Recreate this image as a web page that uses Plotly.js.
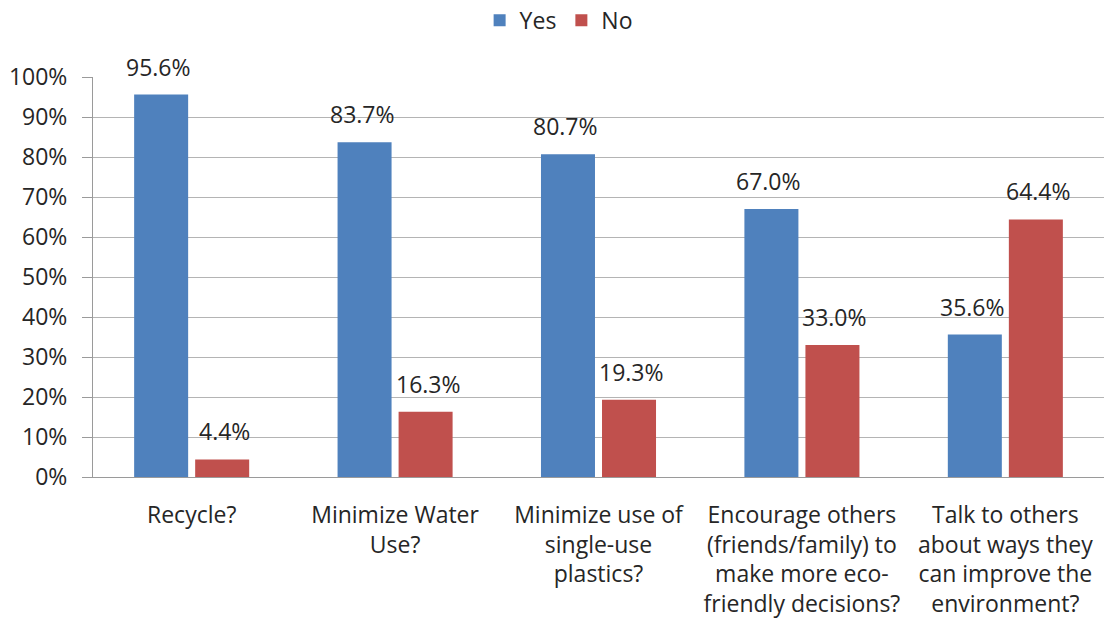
<!DOCTYPE html>
<html><head><meta charset="utf-8">
<script src="https://cdn.plot.ly/plotly-3.0.1.min.js"></script>
<style>html,body{margin:0;padding:0;background:#fff}</style>
</head><body><div id="chart" style="width:1104px;height:631px"></div>
<script>
const categories = ["Recycle?", "Minimize Water<br>Use?", "Minimize use of<br>single-use<br>plastics?", "Encourage others<br>(friends/family) to<br>make more eco-<br>friendly decisions?", "Talk to others<br>about ways they<br>can improve the<br>environment?"];
const yesValues = [0.956, 0.837, 0.807, 0.670, 0.356];
const noValues = [0.044, 0.163, 0.193, 0.330, 0.644];
const yTickVals = [0,0.1,0.2,0.3,0.4,0.5,0.6,0.7,0.8,0.9,1.0];
const yTickText = ["0%","10%","20%","30%","40%","50%","60%","70%","80%","90%","100%"];

const font = {family: "'Open Sans', sans-serif", size: 23, color: "#262626"};
const fmt = v => (v*100).toFixed(1) + "%";
const traces = [
  {type:"bar", name:"Yes", x:categories, y:yesValues, marker:{color:"#4F81BD"}, hoverinfo:"none"},
  {type:"bar", name:"No", x:categories, y:noValues, marker:{color:"#C0504D"}, hoverinfo:"none"}
];
// value labels, placed through the axes at each bar's value
const annotations = [];
const barShift = 33;
categories.forEach((c, i) => {
  annotations.push({x:c, y:yesValues[i], text:fmt(yesValues[i]), showarrow:false, xanchor:"center", yanchor:"bottom", xshift:-barShift, yshift:10, font:font});
  annotations.push({x:c, y:noValues[i], text:fmt(noValues[i]), showarrow:false, xanchor:"center", yanchor:"bottom", xshift:barShift, yshift:10, font:font});
});
const layout = {
  width:1104, height:631,
  margin:{l:93, r:0, t:77, b:154},
  font:font,
  barmode:"group", bargap:0.4, bargroupgap:0.115,
  paper_bgcolor:"#fff", plot_bgcolor:"#fff",
  showlegend:true,
  annotations:annotations,
  legend:{orientation:"h", xref:"container", yref:"container", x:0.506, xanchor:"center", y:0.968, yanchor:"middle", font:font, traceorder:"normal", itemwidth:30},
  xaxis:{type:"category", range:[-0.485, 4.485], showline:true, linecolor:"#9a9a9a", linewidth:1, ticks:"", tickfont:font, ticklabelstandoff:17, automargin:false, fixedrange:true},
  yaxis:{range:[0,1], tickvals:yTickVals, ticktext:yTickText, showline:true, linecolor:"#9a9a9a", linewidth:1, ticks:"outside", ticklen:10, tickcolor:"#9a9a9a", ticklabelstandoff:10, showgrid:true, gridcolor:"#b4b4b4", gridwidth:1, zeroline:false, tickfont:font, automargin:false, fixedrange:true}
};
Plotly.newPlot("chart", traces, layout, {displayModeBar:false, staticPlot:true});
</script></body></html>
